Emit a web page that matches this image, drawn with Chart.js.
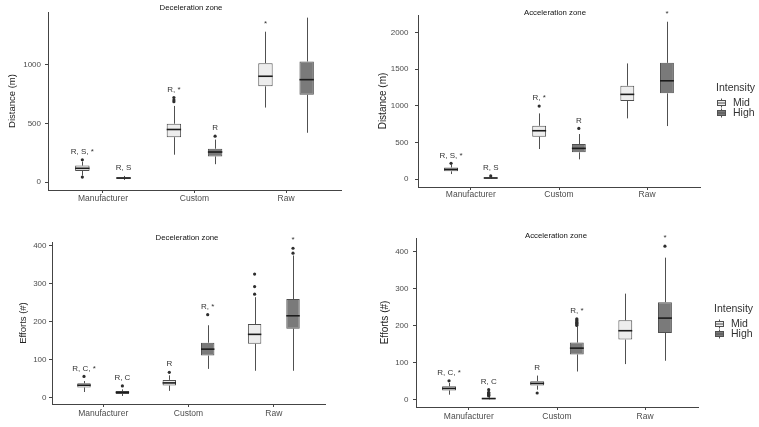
<!DOCTYPE html>
<html>
<head>
<meta charset="utf-8">
<script src="https://cdn.jsdelivr.net/npm/chart.js@4.4.1/dist/chart.umd.min.js"></script>
<style>
  html, body { margin: 0; padding: 0; background: #fff; }
  #wrap { position: relative; width: 759px; height: 427px; }
  #wrap canvas { position: absolute; left: 0; top: 0; }
</style>
</head>
<body>
<div id="wrap">
  <canvas id="decDist" width="759" height="427"></canvas>
  <canvas id="accDist" width="759" height="427"></canvas>
  <canvas id="decEff" width="759" height="427"></canvas>
  <canvas id="accEff" width="759" height="427"></canvas>
</div>
<script>
// --- data ---
const categories = ['Manufacturer', 'Custom', 'Raw'];
const groups = ['Mid', 'High'];

// each box: [lower whisker, Q1, median, Q3, upper whisker]
const decDistMid = [[55, 95, 117, 140, 175], [233, 382, 448, 497, 649], [635, 816, 902, 1014, 1282]];
const decDistHigh = [[18, 28, 34, 40, 52], [152, 218, 256, 284, 362], [420, 744, 873, 1028, 1402]];
const decDistMidOut = [[190, 42], [685, 700, 721], []];
const decDistHighOut = [[], [391], []];
const decDistMidSig = ['R, S, *', 'R, *', '*'];
const decDistHighSig = ['R, S', 'R', ''];

const accDistMid = [[68, 105, 132, 158, 195], [410, 578, 660, 728, 897], [829, 1066, 1157, 1275, 1580]];
const accDistHigh = [[2, 8, 14, 20, 32], [269, 365, 419, 478, 615], [724, 1171, 1343, 1588, 2150]];
const accDistMidOut = [[214], [997], []];
const accDistHighOut = [[42], [692], []];
const accDistMidSig = ['R, S, *', 'R, *', ''];
const accDistHighSig = ['R, S', 'R', '*'];

const decEffMid = [[15, 27, 33, 38, 44], [18, 32, 39, 47, 59], [71, 142, 167, 194, 265]];
const decEffHigh = [[4.5, 10, 14, 17.5, 22], [76, 111, 128, 145, 191], [71, 182, 216, 260, 375]];
const decEffMidOut = [[56], [67], [273, 293, 326]];
const decEffHighOut = [[31], [219], [381, 394]];
const decEffMidSig = ['R, C, *', 'R', ''];
const decEffHighSig = ['R, C', 'R, *', '*'];

const accEffMid = [[13.5, 25, 30.5, 36, 45], [27, 38, 44, 50, 65], [96, 162, 186, 214, 286]];
const accEffHigh = [[0, 1, 3, 5, 8], [76, 122, 139, 154, 197], [105, 180, 220, 263, 383]];
const accEffMidOut = [[51], [18], []];
const accEffHighOut = [[10, 12, 14, 16, 18, 20, 27], [200, 203, 206, 209, 212, 215, 218], [414]];
const accEffMidSig = ['R, C, *', 'R', ''];
const accEffHighSig = ['R, C', 'R, *', '*'];

const distTicksDec = [0, 500, 1000];
const distTicksAcc = [0, 500, 1000, 1500, 2000];
const effTicks = [0, 100, 200, 300, 400];

// --- styling ---
const FONT = "'Liberation Sans', Arial, sans-serif";
const FILL = { Mid: '#ededed', High: '#7a7a7a' };
const LINE = '#505050';
const TXT = '#333';
Chart.defaults.font.family = FONT;
Chart.defaults.color = '#4d4d4d';

const boxPlugin = {
  id: 'boxes',
  afterDatasetsDraw(chart) {
    const ctx = chart.ctx;
    const ys = chart.scales.y;
    chart.data.datasets.forEach((ds, i) => {
      const meta = chart.getDatasetMeta(i);
      meta.data.forEach((bar, j) => {
        const [lo, q1, med, q3, hi] = ds.stats[j];
        const x = Math.round(bar.x) + 0.5;
        const half = bar.width / 2;
        ctx.save();
        // whiskers
        ctx.strokeStyle = LINE;
        ctx.lineWidth = 1;
        ctx.beginPath();
        ctx.moveTo(x, ys.getPixelForValue(q3));
        ctx.lineTo(x, ys.getPixelForValue(hi));
        ctx.moveTo(x, ys.getPixelForValue(q1));
        ctx.lineTo(x, ys.getPixelForValue(lo));
        ctx.stroke();
        // median
        ctx.strokeStyle = '#1c1c1c';
        ctx.lineWidth = 1.6;
        ctx.beginPath();
        const my = ys.getPixelForValue(med);
        ctx.moveTo(bar.x - half, my);
        ctx.lineTo(bar.x + half, my);
        ctx.stroke();
        // outliers
        ctx.fillStyle = '#2e2e2e';
        let top = ys.getPixelForValue(hi);
        ds.outliers[j].forEach(v => {
          const py = ys.getPixelForValue(v);
          top = Math.min(top, py);
          ctx.beginPath();
          ctx.arc(bar.x, py, 1.6, 0, Math.PI * 2);
          ctx.fill();
        });
        // significance letters
        if (ds.sig[j]) {
          ctx.fillStyle = TXT;
          ctx.font = '8px ' + FONT;
          ctx.textAlign = 'center';
          ctx.textBaseline = 'middle';
          ctx.fillText(ds.sig[j], bar.x, top - 8);
        }
        ctx.restore();
      });
    });
  },
  afterDraw(chart, args, opts) {
    const ctx = chart.ctx;
    ctx.save();
    ctx.fillStyle = '#111';
    ctx.font = '7.8px ' + FONT;
    ctx.textAlign = 'center';
    ctx.textBaseline = 'middle';
    ctx.fillText(opts.title, opts.titleX, opts.titleY);
    if (opts.legend) {
      const lg = opts.legend;
      ctx.fillStyle = TXT;
      ctx.font = '10.5px ' + FONT;
      ctx.textAlign = 'left';
      ctx.fillText('Intensity', lg.x, lg.y);
      groups.forEach((g, k) => {
        const cy = lg.y + 15 + k * 10;
        const cx = lg.x + 5;
        ctx.strokeStyle = LINE;
        ctx.lineWidth = 1;
        ctx.beginPath();
        ctx.moveTo(cx + 0.5, cy - 4.5); ctx.lineTo(cx + 0.5, cy + 4.5);
        ctx.stroke();
        ctx.fillStyle = FILL[g];
        ctx.fillRect(cx - 4, cy - 2.5, 9, 5);
        ctx.strokeRect(cx - 3.5, cy - 2.5, 8, 5);
        ctx.beginPath();
        ctx.moveTo(cx - 4, cy); ctx.lineTo(cx + 5, cy);
        ctx.stroke();
        ctx.fillStyle = TXT;
        ctx.fillText(g, lg.x + 17, cy);
      });
    }
    ctx.restore();
  }
};

function makeChart(id, p, mid, high, midOut, highOut, midSig, highSig, yTicks) {
  const lh = p.yTitleSize * 1.2;
  const padLeft = p.yTitleX - lh / 2;
  const xH = 20;
  const toData = arr => arr.map((s, i) => ({ x: i + 1, y: [s[1], s[3]] }));
  return new Chart(document.getElementById(id), {
    type: 'bar',
    data: {
      datasets: [
        { label: 'Mid', data: toData(mid), stats: mid, outliers: midOut, sig: midSig,
          backgroundColor: FILL.Mid, borderColor: LINE, borderWidth: 1, borderSkipped: false },
        { label: 'High', data: toData(high), stats: high, outliers: highOut, sig: highSig,
          backgroundColor: FILL.High, borderColor: LINE, borderWidth: 1, borderSkipped: false }
      ]
    },
    options: {
      responsive: false,
      animation: false,
      events: [],
      categoryPercentage: 0.9,
      barPercentage: 0.35,
      layout: { padding: { left: padLeft, top: p.t, right: 759 - p.r, bottom: Math.max(0, 427 - p.b - xH) } },
      plugins: {
        legend: { display: false },
        tooltip: { enabled: false },
        boxes: { title: p.title, titleX: p.titleX, titleY: p.titleY, legend: p.legend }
      },
      scales: {
        x: {
          type: 'linear', min: 0.4, max: 3.6, offset: false,
          afterBuildTicks: s => { s.ticks = categories.map((c, i) => ({ value: i + 1 })); },
          afterFit: s => { s.height = Math.min(xH, 427 - p.b); },
          ticks: { callback: v => categories[v - 1], autoSkip: false, maxRotation: 0,
                   padding: p.xPad, color: '#4d4d4d', font: { size: 8.5 } },
          grid: { drawOnChartArea: false, offset: false, tickLength: 3, color: '#444' },
          border: { color: '#444', width: 1 }
        },
        y: {
          min: p.yMin, max: p.yMax,
          afterBuildTicks: s => { s.ticks = yTicks.map(v => ({ value: v })); },
          afterFit: s => { s.width = p.l - padLeft; },
          ticks: { callback: v => String(v), padding: p.yPad, color: '#4d4d4d', font: { size: 8 } },
          grid: { drawOnChartArea: false, tickLength: 3, color: '#444' },
          border: { color: '#444', width: 1 },
          title: { display: true, text: p.yTitle, padding: 0, color: '#222', font: { size: p.yTitleSize } }
        }
      }
    },
    plugins: [boxPlugin]
  });
}

makeChart('decDist',
  { l: 48, r: 341, t: 12, b: 190, yMin: -68, yMax: 1450, yTitle: 'Distance (m)', yTitleSize: 9.5, yTitleX: 12,
    yPad: 4, xPad: 1, title: 'Deceleration zone', titleX: 191, titleY: 8 },
  decDistMid, decDistHigh, decDistMidOut, decDistHighOut, decDistMidSig, decDistHighSig, distTicksDec);

makeChart('accDist',
  { l: 418, r: 700, t: 15, b: 187, yMin: -109, yMax: 2242, yTitle: 'Distance (m)', yTitleSize: 10, yTitleX: 383,
    yPad: 6.5, xPad: 0, title: 'Acceleration zone', titleX: 555, titleY: 13, legend: { x: 716, y: 88 } },
  accDistMid, accDistHigh, accDistMidOut, accDistHighOut, accDistMidSig, accDistHighSig, distTicksAcc);

makeChart('decEff',
  { l: 52, r: 325, t: 242, b: 404, yMin: -16.6, yMax: 410.5, yTitle: 'Efforts (#)', yTitleSize: 9.5, yTitleX: 23.5,
    yPad: 2.5, xPad: 1.2, title: 'Deceleration zone', titleX: 187, titleY: 238 },
  decEffMid, decEffHigh, decEffMidOut, decEffHighOut, decEffMidSig, decEffHighSig, effTicks);

makeChart('accEff',
  { l: 416, r: 698, t: 238, b: 407, yMin: -19.7, yMax: 436, yTitle: 'Efforts (#)', yTitleSize: 10, yTitleX: 385,
    yPad: 4.5, xPad: 1.6, title: 'Acceleration zone', titleX: 556, titleY: 236, legend: { x: 714, y: 309 } },
  accEffMid, accEffHigh, accEffMidOut, accEffHighOut, accEffMidSig, accEffHighSig, effTicks);
</script>
</body>
</html>
